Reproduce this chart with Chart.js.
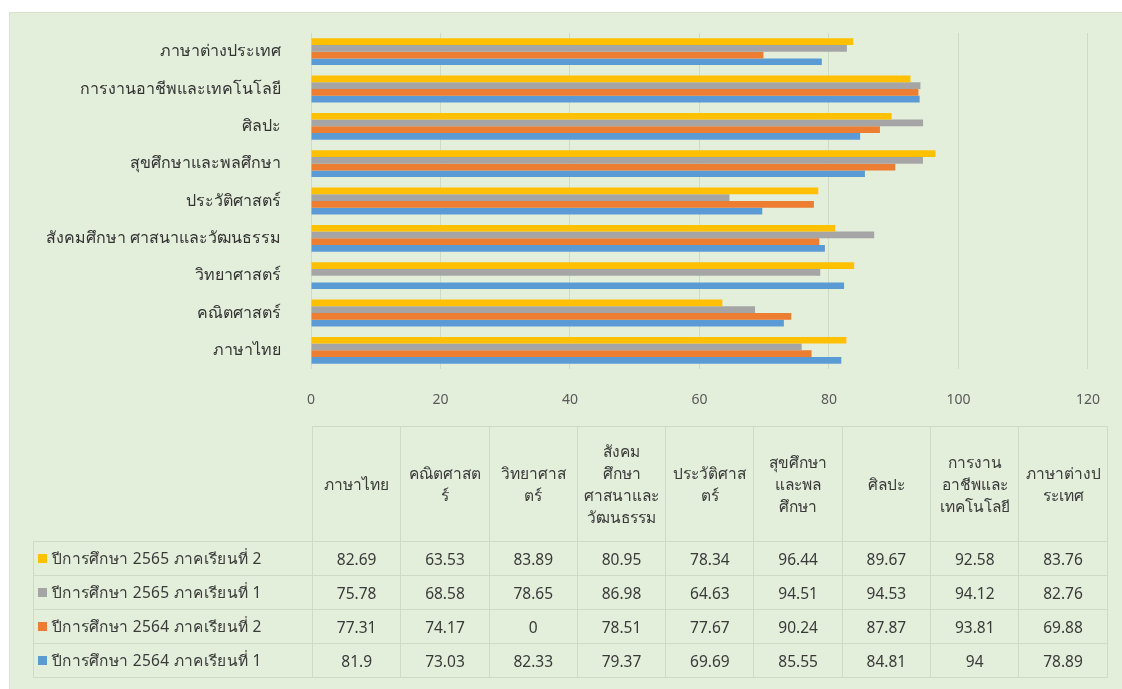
<!DOCTYPE html>
<html>
<head>
<meta charset="utf-8">
<script src="https://cdn.jsdelivr.net/npm/chart.js@4"></script>
<style>
  html, body { margin: 0; padding: 0; background: #fff; }
  #wrap {
    position: absolute; left: 9px; top: 12px; width: 1113px; height: 677px;
    background: #e3eedb; border-left: 1px solid #d6e0ce; border-top: 1px solid #d6e0ce;
    font-family: Tahoma, "Noto Sans", sans-serif;
  }
  #chart { position: absolute; left: 0; top: 0; }
  #dt {
    position: absolute; left: 23px; top: 413px;
    border-collapse: collapse; table-layout: fixed;
    font-size: 15.5px; color: #3a3a3a;
  }
  #dt th, #dt td { border: 1px solid #cfdcc5; text-align: center; padding: 0 1px; }
  #dt th { font-weight: normal; white-space: pre-line; line-height: 22px; height: 114px; vertical-align: middle; }
  #dt th.corner { border: none; border-bottom: 1px solid #cfdcc5; }
  #dt td { height: 33px; }
  #dt td.leg { text-align: left; white-space: nowrap; padding-left: 4px; letter-spacing: 0.3px; }
  .sw { display: inline-block; width: 9px; height: 9px; margin-right: 5px; vertical-align: 1px; }
</style>
</head>
<body>
<div id="wrap">
  <canvas id="chart"></canvas>
  <table id="dt"></table>
</div>
<script>
// Subjects (bottom to top on the chart, left to right in the table)
const subjects = ['ภาษาไทย', 'คณิตศาสตร์', 'วิทยาศาสตร์', 'สังคมศึกษา ศาสนาและวัฒนธรรม',
    'ประวัติศาสตร์', 'สุขศึกษาและพลศึกษา', 'ศิลปะ', 'การงานอาชีพและเทคโนโลยี', 'ภาษาต่างประเทศ'];
// Wrapped headers as they appear in the data table
const tableHeaders = ['ภาษาไทย', 'คณิตศาสต\nร์', 'วิทยาศาส\nตร์', 'สังคม\nศึกษา\nศาสนาและ\nวัฒนธรรม',
    'ประวัติศาส\nตร์', 'สุขศึกษา\nและพล\nศึกษา', 'ศิลปะ', 'การงาน\nอาชีพและ\nเทคโนโลยี', 'ภาษาต่างป\nระเทศ'];

const seriesNames = ['ปีการศึกษา 2565 ภาคเรียนที่ 2', 'ปีการศึกษา 2565 ภาคเรียนที่ 1',
    'ปีการศึกษา 2564 ภาคเรียนที่ 2', 'ปีการศึกษา 2564 ภาคเรียนที่ 1'];
const seriesColors = ['#ffc000', '#a5a5a5', '#ed7d31', '#5b9bd5'];

const y2565t2 = [82.69, 63.53, 83.89, 80.95, 78.34, 96.44, 89.67, 92.58, 83.76];
const y2565t1 = [75.78, 68.58, 78.65, 86.98, 64.63, 94.51, 94.53, 94.12, 82.76];
const y2564t2 = [77.31, 74.17, 0, 78.51, 77.67, 90.24, 87.87, 93.81, 69.88];
const y2564t1 = [81.9, 73.03, 82.33, 79.37, 69.69, 85.55, 84.81, 94, 78.89];
const seriesValues = [y2565t2, y2565t1, y2564t2, y2564t1];

const xMin = 0, xMax = 120, xStep = 20;

const fontFamily = 'Tahoma, "Noto Sans", sans-serif';

const canvas = document.getElementById('chart');
canvas.width = 1113;
canvas.height = 677;
canvas.style.width = '1113px';
canvas.style.height = '677px';

new Chart(canvas.getContext('2d'), {
    type: 'bar',
    data: {
        labels: subjects,
        datasets: seriesNames.map((name, i) => ({
            label: name,
            data: seriesValues[i],
            backgroundColor: seriesColors[i],
            borderWidth: 0,
            barPercentage: 1.0,
            categoryPercentage: 0.72
        }))
    },
    options: {
        indexAxis: 'y',
        responsive: false,
        animation: false,
        layout: { padding: { left: 0, right: 27, top: 20, bottom: 261 } },
        plugins: {
            legend: { display: false },
            tooltip: { enabled: false }
        },
        scales: {
            y: {
                reverse: true,
                // long invisible tick marks keep the labels clear of the bars
                grid: { display: false, drawTicks: true, tickLength: 28 },
                border: { display: false },
                ticks: { color: '#333333', font: { family: fontFamily, size: 16 }, padding: 2 },
                afterFit: (scale) => { scale.width = 301; }
            },
            x: {
                min: xMin,
                max: xMax,
                grid: { color: '#cfdcc5', drawTicks: false },
                border: { display: false },
                ticks: { stepSize: xStep, color: '#595959', font: { family: fontFamily, size: 14 }, padding: 23 },
                afterFit: (scale) => { scale.height = 60; }
            }
        }
    }
});

// Data table under the chart
const table = document.getElementById('dt');
const colgroup = document.createElement('colgroup');
colgroup.innerHTML = '<col style="width:279px">' + subjects.map(() => '<col style="width:88.3px">').join('');
table.appendChild(colgroup);

const head = document.createElement('tr');
head.innerHTML = '<th class="corner"></th>' + tableHeaders.map(h => `<th>${h}</th>`).join('');
table.appendChild(head);

seriesNames.forEach((name, i) => {
    const tr = document.createElement('tr');
    tr.innerHTML = `<td class="leg"><span class="sw" style="background:${seriesColors[i]}"></span>${name}</td>` +
        seriesValues[i].map(v => `<td>${v}</td>`).join('');
    table.appendChild(tr);
});
</script>
</body>
</html>
